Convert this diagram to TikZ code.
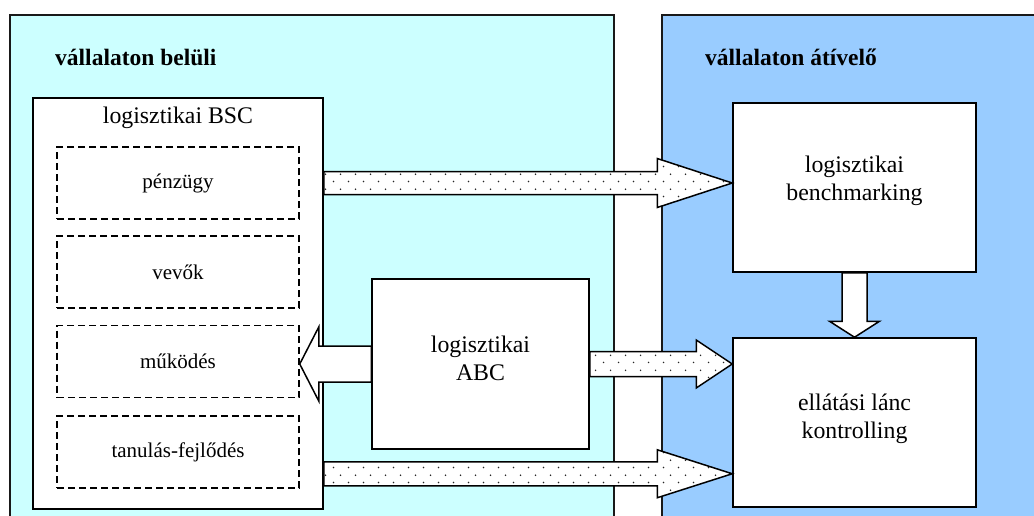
\documentclass[tikz,border=0pt]{standalone}
\usepackage{fontspec}
\setmainfont{Liberation Serif}
\usetikzlibrary{calc,patterns.meta}

\definecolor{inpanel}{HTML}{CCFFFF}
\definecolor{outpanel}{HTML}{99CCFF}

% sparse staggered dots for the information-flow arrows
\tikzdeclarepattern{
  name=sparsedots,
  type=uncolored,
  bounding box={(0pt,0pt) and (15pt,15pt)},
  tile size={(15pt,15pt)},
  code={
    \fill (3.75pt,3.75pt) circle (0.9pt);
    \fill (11.25pt,11.25pt) circle (0.9pt);
  }
}

% block arrow: [style]{from}{tip}{shaft half width}{head half width}{head length}
\newcommand\blockarrow[6][]{%
  \coordinate (ba-s) at (#2);
  \coordinate (ba-t) at (#3);
  \coordinate (ba-b) at ($(ba-t)!#6!(ba-s)$);
  \draw[#1] ($(ba-s)!#4!90:(ba-t)$) -- ($(ba-b)!#4!90:(ba-t)$)
    -- ($(ba-b)!#5!90:(ba-t)$) -- (ba-t) -- ($(ba-b)!#5!-90:(ba-t)$)
    -- ($(ba-b)!#4!-90:(ba-t)$) -- ($(ba-s)!#4!-90:(ba-t)$) -- cycle;
}

\tikzset{
  panel/.style={draw=black!90, line width=1.5pt, inner sep=0pt, anchor=north west},
  box/.style={draw, fill=white, line width=1.5pt, inner sep=0pt},
  dbox/.style={draw, dash pattern=on 7pt off 4pt, line width=1.5pt, inner sep=0pt,
    minimum width=242pt, minimum height=72pt, font=\fontsize{21}{25}\selectfont},
  lbl/.style={inner sep=0pt, align=center},
  head/.style={inner sep=0pt, anchor=west, font=\bfseries\fontsize{23.5}{28}\selectfont},
  hollow/.style={draw, fill=white, line width=1.5pt, line join=miter},
  dotarrow/.style={draw, line width=1.5pt, line join=miter, preaction={fill=white},
    pattern=sparsedots, pattern color=black!85},
}

\begin{document}
\begin{tikzpicture}[x=1pt, y=-1pt, font=\fontsize{23.8}{28}\selectfont]
\useasboundingbox (0,0) rectangle (1034,515);
\clip (0,0) rectangle (1034,515);
\fill[white] (0,0) rectangle (1034,515);

% the two domains
\node[panel, fill=inpanel, minimum width=604pt, minimum height=530pt] (inside) at (9,14) {};
\node[panel, fill=outpanel, minimum width=390pt, minimum height=530pt] (across) at (661,14) {};
\node[head] (inhead) at (55,57) {vállalaton belüli};
\node[head] (outhead) at (705,57) {vállalaton átívelő};

% logistics balanced scorecard with its four perspectives
\node[box, minimum width=290pt, minimum height=411pt] (bsc) at (178,303.5) {};
\node[lbl] (bsct) at (178,118) {logisztikai BSC};
\node[dbox] (pz) at (178,183) {pénzügy};
\node[dbox] (vv) at (178,272) {vevők};
\node[dbox] (mk) at (178,361.5) {működés};
\node[dbox] (tf) at (178,452) {tanulás-fejlődés};

% activity based costing
\node[box, minimum width=217pt, minimum height=170pt] (abc) at (480.5,364) {};
\node[lbl] (abct) at (480.5,358) {logisztikai\\ABC};

% cross-company tools
\node[box, minimum width=243pt, minimum height=169pt] (bench) at (854.5,187.5) {};
\node[lbl] (bencht) at (854.5,181) {logisztikai\\benchmarking};
\node[box, minimum width=243pt, minimum height=169pt] (ell) at (854.5,422.5) {};
\node[lbl] (ellt) at (854.5,419) {ellátási lánc\\kontrolling};

% flows
\coordinate (lowtip) at ($(ell.south west)+(0,-34)$);
\blockarrow[dotarrow]{bsc.east |- pz.center}{bench.west |- pz.center}{11.5pt}{24.5pt}{75pt}
\blockarrow[dotarrow]{abc.east}{ell.west |- abc.east}{12.5pt}{24pt}{36pt}
\blockarrow[dotarrow]{bsc.east |- lowtip}{lowtip}{12pt}{24pt}{75pt}
\blockarrow[hollow]{abc.west}{mk.east |- abc.west}{18pt}{37pt}{19pt}
\blockarrow[hollow]{bench.south}{ell.north}{12.5pt}{25pt}{16pt}
\end{tikzpicture}
\end{document}
